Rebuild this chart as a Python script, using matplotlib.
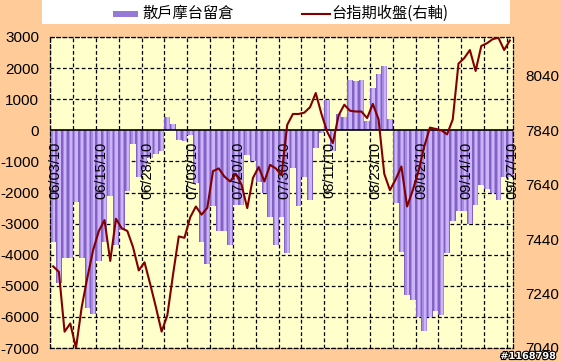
import matplotlib

matplotlib.use("Agg")

import numpy as np
import matplotlib.pyplot as plt
import matplotlib.patheffects as pe
from matplotlib.patches import Rectangle
from matplotlib.lines import Line2D

# --- data -----------------------------------------------------------------
DATE_LABELS = [
    "06/03/10", "06/15/10", "06/28/10", "07/08/10", "07/20/10", "07/30/10",
    "08/11/10", "08/23/10", "09/02/10", "09/14/10", "09/27/10",
]

# retail open interest in mini TAIEX futures (left axis)
RETAIL_OI = [
    -3600, -4900, -4100, -4100, -2300, -4100, -5700, -5900, -4200, -3600,
    -2100, -3700, -3200, -1950, -450, -1500, -1250, -900, -750, -650,
    430, 210, -300, -350, -150, -1700, -3600, -4300, -2450, -3250,
    -3250, -3700, -2400, -2400, -800, -1000, -1650, -2000, -2800, -3700,
    -2800, -3950, -1200, -2450, -1500, -2250, -570, -100, 980, -680,
    530, 430, 1620, 1580, 1620, 300, 1370, 1800, 2080, 350,
    -2340, -3920, -5300, -5470, -5990, -6440, -5990, -5800, -5950, -3940,
    -2930, -2600, -2600, -3000, -2400, -1750, -1900, -2000, -2250, -1500,
    -1500,
]

# TAIEX futures close (right axis)
TX_CLOSE = [
    7340, 7320, 7100, 7130, 7040, 7190, 7300, 7400, 7470, 7510,
    7360, 7515, 7480, 7470, 7410, 7325, 7355, 7275, 7190, 7100,
    7160, 7310, 7450, 7445, 7520, 7560, 7530, 7555, 7690, 7700,
    7670, 7652, 7680, 7640, 7554, 7665, 7705, 7652, 7713, 7700,
    7675, 7860, 7900, 7900, 7905, 7925, 7977, 7900, 7835, 7793,
    7895, 7934, 7912, 7909, 7909, 7885, 7937, 7880, 7680, 7620,
    7660, 7707, 7560, 7620, 7690, 7780, 7850, 7845, 7840, 7825,
    7880, 8085, 8105, 8135, 8058, 8150, 8160, 8175, 8180, 8135,
    8170,
]

LEFT_TICKS = list(range(-7000, 3001, 1000))
RIGHT_TICKS = [7040, 7240, 7440, 7640, 7840, 8040]

W, H = 561, 362
BG = "#FFCC99"
PLOT_BG = "#FFFFCC"
LINE_C = "#800000"
NUM_FONT = "Liberation Sans"
CJK = ["Noto Sans CJK TC", "DejaVu Sans"]

fig = plt.figure(figsize=(W / 100, H / 100), dpi=100, facecolor=BG)
ax = fig.add_axes([50.3 / W, 14 / H, 462.4 / W, 311 / H])
ax.set_facecolor(PLOT_BG)

x = np.arange(len(RETAIL_OI))

# bars with a cheap cylinder-style shading
ax.bar(x, RETAIL_OI, width=1.0, color="#8262C2", linewidth=0, zorder=2)
ax.bar(x + 0.05, RETAIL_OI, width=0.72, color="#A88BE2", linewidth=0, zorder=2)
ax.bar(x + 0.1, RETAIL_OI, width=0.4, color="#CDB3FA", linewidth=0, zorder=2)

ax.set_xlim(-0.5, len(x) - 0.5)
ax.set_ylim(-7000, 3000)

dash = (0, (3, 2))
for k in range(0, len(x), 4):
    ax.axvline(k - 0.5, color="black", lw=0.9, ls=dash, zorder=1)
for v in LEFT_TICKS:
    if v != 0:
        ax.axhline(v, color="black", lw=0.9, ls=dash, zorder=1)
ax.axhline(0, color="black", lw=1.2, zorder=3)

for s in ax.spines.values():
    s.set_linestyle(dash)
    s.set_linewidth(0.9)

ax.set_xticks([])
ax.set_yticks(LEFT_TICKS)
ax.set_yticklabels([str(v) for v in LEFT_TICKS], family=NUM_FONT, fontsize=11)
ax.tick_params(axis="y", length=0, pad=8)

# date labels sit inside the plot, just under the zero line
for k, lab in enumerate(DATE_LABELS):
    ax.text(8 * k + 0.45, -380, lab, rotation=90, ha="center", va="top",
            fontsize=10.5, family=NUM_FONT, color="black", zorder=5)

ax2 = ax.twinx()
ax2.plot(x, TX_CLOSE, color=LINE_C, lw=1.5, zorder=4)
ax2.set_ylim(7040, 7040 + 8000 / 7)
ax2.set_yticks(RIGHT_TICKS)
ax2.set_yticklabels([str(v) for v in RIGHT_TICKS], family=NUM_FONT, fontsize=11)
ax2.tick_params(axis="y", length=0, pad=9)
for s in ax2.spines.values():
    s.set_visible(False)

# legend strip across the top
fig.patches.append(Rectangle((42 / W, 1 - 24 / H), (510 - 42) / W, 24 / H,
                             transform=fig.transFigure, facecolor="white",
                             edgecolor="none", zorder=0))
fig.patches.append(Rectangle((113 / W, 1 - 16.5 / H), 25 / W, 5 / H,
                             transform=fig.transFigure, facecolor="#9678D6",
                             edgecolor="none", zorder=1))
fig.text(142 / W, 1 - 13 / H, "散戶摩台留倉", ha="left", va="center",
         fontsize=11, family=CJK)
fig.lines.append(Line2D([302 / W, 330 / W], [1 - 13.5 / H, 1 - 13.5 / H],
                        transform=fig.transFigure, color=LINE_C, lw=1.5))
fig.text(331 / W, 1 - 13 / H, "台指期收盤(右軸)", ha="left", va="center",
         fontsize=11, family=CJK)

fig.text(556 / W, 1 - 356 / H, "#1168798", ha="right", va="center",
         color="white", fontsize=7, fontweight="bold", family="DejaVu Sans",
         path_effects=[pe.withStroke(linewidth=1.6, foreground="black")])

fig.savefig("out.png", dpi=100, facecolor=fig.get_facecolor())
